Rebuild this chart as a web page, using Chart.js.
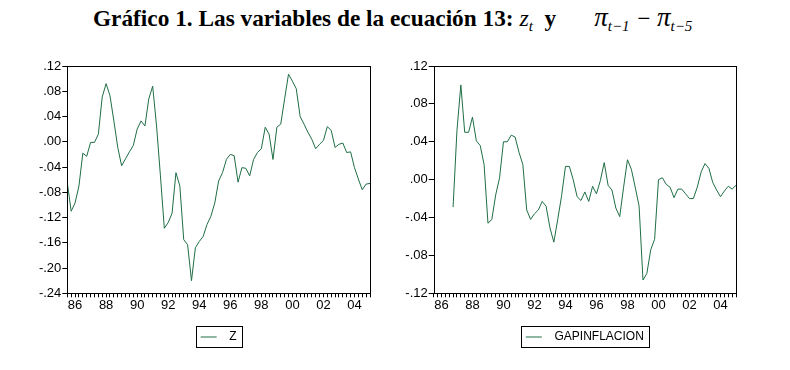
<!DOCTYPE html>
<html>
<head>
<meta charset="utf-8">
<script src="https://cdn.jsdelivr.net/npm/chart.js@4/dist/chart.umd.min.js"></script>
<style>
  body { margin: 0; background: #fff; width: 790px; height: 370px; position: relative; overflow: hidden; }
  #title { position: absolute; left: 93px; top: 5px; font-family: "Liberation Serif", serif; font-weight: bold; font-size: 23.3px; line-height: 24px; white-space: nowrap; color: #000; }
  #title .m { font-weight: normal; font-style: italic; }
  #title .z { font-size: 24px; }
  #title .pi { font-size: 27px; }
  #title sub { font-size: 15px; vertical-align: -5px; }
  #title .gap { display: inline-block; width: 38px; }
  .box { position: absolute; top: 40px; width: 395px; height: 330px; }
</style>
</head>
<body>
<div id="title">Gráfico 1. Las variables de la ecuación 13: <span class="m"><span class="z">z</span><sub>t</sub></span>&nbsp; y<span class="gap"></span><span class="m"><span class="pi">π</span><sub>t−1</sub> − <span class="pi">π</span><sub>t−5</sub></span></div>
<div class="box" style="left:0"><canvas id="zChart" width="395" height="330"></canvas></div>
<div class="box" style="left:395px"><canvas id="gapChart" width="395" height="330"></canvas></div>
<script>
// quarterly sample 1985Q3 - 2005Q1
const firstYear = 1985, firstQuarter = 3, nObs = 79;
const quarters = [];
for (let i = 0; i < nObs; i++) {
  const q = firstQuarter - 1 + i;
  quarters.push((firstYear + Math.floor(q / 4)) + 'Q' + (q % 4 + 1));
}
const yearTicks = ['86', '88', '90', '92', '94', '96', '98', '00', '02', '04'];

const zValues = [
  -0.065, -0.110, -0.097, -0.070, -0.018, -0.023, -0.001, -0.001, 0.012, 0.071,
  0.092, 0.073, 0.033, -0.009, -0.038, -0.027, -0.016, -0.006, 0.020, 0.033,
  0.025, 0.068, 0.088, 0.025, -0.054, -0.137, -0.128, -0.113, -0.049, -0.070,
  -0.155, -0.163, -0.220, -0.168, -0.158, -0.150, -0.131, -0.118, -0.097, -0.062,
  -0.049, -0.028, -0.020, -0.022, -0.064, -0.041, -0.042, -0.054, -0.028, -0.017,
  -0.011, 0.023, 0.012, -0.028, 0.023, 0.028, 0.068, 0.107, 0.096, 0.084,
  0.040, 0.028, 0.015, 0.004, -0.011, -0.004, 0.002, 0.024, 0.018, -0.009,
  -0.004, -0.002, -0.017, -0.016, -0.041, -0.059, -0.076, -0.067, -0.066
];

const gapValues = [
  null, null, null, null, null, -0.029, 0.052, 0.100, 0.050, 0.050,
  0.066, 0.041, 0.036, 0.016, -0.046, -0.042, -0.016, 0.002, 0.040, 0.040,
  0.047, 0.045, 0.029, 0.016, -0.032, -0.042, -0.036, -0.032, -0.023, -0.028,
  -0.051, -0.066, -0.042, -0.017, 0.014, 0.014, 0.000, -0.018, -0.022, -0.013,
  -0.023, -0.007, -0.015, -0.001, 0.018, -0.006, -0.011, -0.030, -0.039, -0.008,
  0.021, 0.011, -0.008, -0.028, -0.106, -0.099, -0.074, -0.063, 0.000, 0.002,
  -0.005, -0.008, -0.019, -0.010, -0.010, -0.015, -0.020, -0.020, -0.008, 0.008,
  0.017, 0.012, -0.003, -0.011, -0.018, -0.012, -0.007, -0.010, -0.006
];

const lineColor = '#1f6e45';
const axisFont = { family: 'Liberation Sans', size: 13 };

// eviews style: .04, -.08
function fmtTick(v) {
  const s = Math.abs(v).toFixed(2).replace(/^0/, '');
  return (v < -1e-9 ? '-' : '') + s;
}

function yearLabel(idx) {
  const lab = quarters[idx];
  if (!lab.endsWith('Q1')) return '';
  const yy = lab.slice(2, 4);
  return yearTicks.includes(yy) ? yy : '';
}

const framePlugin = {
  id: 'frame',
  afterDraw(chart) {
    const { ctx, chartArea: a } = chart;
    ctx.save();
    ctx.strokeStyle = '#000';
    ctx.lineWidth = 1;
    ctx.strokeRect(Math.round(a.left) + 0.5, Math.round(a.top) + 0.5,
      Math.round(a.right - a.left), Math.round(a.bottom - a.top));
    const hb = chart.legend.legendHitBoxes[0];
    if (hb) {
      ctx.strokeRect(Math.round(hb.left) - 4.5, Math.round(hb.top) - 4.5,
        Math.round(hb.width) + 10, Math.round(hb.height) + 9);
    }
    ctx.restore();
  }
};

function makeChart(id, name, values, yMin, yMax, yWidth, padRight) {
  new Chart(document.getElementById(id), {
    type: 'line',
    data: {
      labels: quarters,
      datasets: [{
        label: name,
        data: values,
        borderColor: lineColor,
        backgroundColor: lineColor,
        borderWidth: 1,
        pointRadius: 0,
        tension: 0,
        fill: false
      }]
    },
    options: {
      responsive: false,
      animation: false,
      layout: { padding: { left: 0, right: padRight, top: 26, bottom: 17 } },
      plugins: {
        legend: {
          position: 'bottom',
          fullSize: false,
          labels: {
            usePointStyle: true,
            pointStyle: 'line',
            pointStyleWidth: 16,
            padding: 0,
            color: '#000',
            font: { family: 'Liberation Sans', size: 12 },
            generateLabels: chart => Chart.defaults.plugins.legend.labels.generateLabels(chart)
              .map(l => Object.assign(l, { text: '  ' + l.text }))
          }
        },
        tooltip: { enabled: false }
      },
      scales: {
        x: {
          type: 'category',
          offset: false,
          border: { display: false },
          grid: { drawOnChartArea: false, drawTicks: true, tickLength: 4, color: '#000' },
          ticks: {
            autoSkip: false,
            maxRotation: 0,
            padding: 0,
            color: '#000',
            font: axisFont,
            callback: (v, i) => yearLabel(i)
          },
          afterFit: s => { s.height = 37.7; }
        },
        y: {
          min: yMin,
          max: yMax,
          border: { display: false },
          grid: { drawOnChartArea: false, drawTicks: true, tickLength: 5, color: '#000' },
          ticks: { stepSize: 0.04, padding: 1, color: '#000', font: axisFont, callback: fmtTick },
          afterFit: s => { s.width = yWidth; }
        }
      }
    },
    plugins: [framePlugin]
  });
}

makeChart('zChart', 'Z', zValues, -0.24, 0.12, 67.3, 25);
makeChart('gapChart', 'GAPINFLACION', gapValues, -0.12, 0.12, 38.7, 54);
</script>
</body>
</html>
